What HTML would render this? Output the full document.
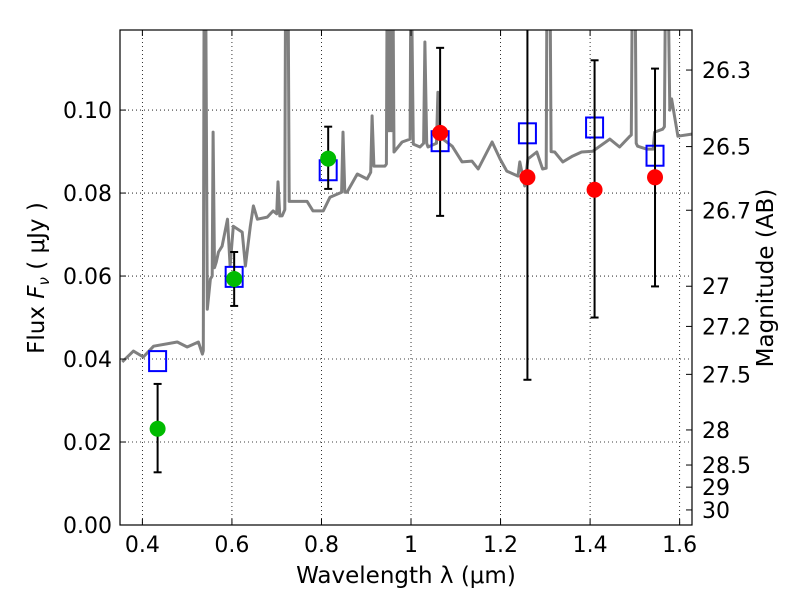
<!DOCTYPE html>
<html><head><meta charset="utf-8"><style>
body{margin:0;background:#fff}
svg{display:block;font-family:"DejaVu Sans","Liberation Sans",sans-serif}
</style></head><body>
<svg id="chart" width="800" height="600" viewBox="0 0 800 600">
<defs><clipPath id="clip"><rect x="120" y="30" width="572" height="495"/></clipPath></defs>
<rect x="0" y="0" width="800" height="600" fill="#fff"/>
<g id="grid"></g>
<g id="spec" clip-path="url(#clip)"></g>
<g id="marks" clip-path="url(#clip)"></g>
<rect x="120" y="30" width="572" height="495" fill="none" stroke="#000" stroke-width="1.2"/>
<g id="axes"></g>
<text x="406" y="583" font-size="23" text-anchor="middle">Wavelength  λ (μm)</text>
<text transform="translate(44,278) rotate(-90)" font-size="23" text-anchor="middle">Flux  <tspan font-style="italic">F</tspan><tspan font-size="15" font-style="italic" dy="5">ν</tspan><tspan dy="-5">  (  μJy )</tspan></text>
<text transform="translate(773,278) rotate(-90)" font-size="23" text-anchor="middle">Magnitude (AB)</text>
</svg>
<script>
const xTicks=[0.4,0.6,0.8,1.0,1.2,1.4,1.6];
const xTickLabels=["0.4","0.6","0.8","1","1.2","1.4","1.6"];
const yTicks=[0,0.02,0.04,0.06,0.08,0.10];
const yTickLabels=["0.00","0.02","0.04","0.06","0.08","0.10"];
const magTicks=[26.3,26.5,26.7,27,27.2,27.5,28,28.5,29,30];
const specLam=[0.355,0.380,0.402,0.425,0.478,0.500,0.525,0.534,0.536,0.538,0.541,0.545,0.552,0.556,0.558,0.561,0.565,0.570,0.578,0.590,0.596,0.603,0.623,0.630,0.641,0.648,0.657,0.679,0.692,0.700,0.703,0.707,0.712,0.718,0.720,0.725,0.728,0.768,0.781,0.804,0.819,0.845,0.848,0.852,0.857,0.880,0.902,0.910,0.913,0.917,0.942,0.945,0.947,0.951,0.953,0.956,0.959,0.962,0.980,0.998,1.000,1.005,1.020,1.028,1.031,1.035,1.038,1.057,1.060,1.063,1.071,1.092,1.114,1.136,1.150,1.181,1.199,1.214,1.239,1.243,1.254,1.261,1.281,1.294,1.302,1.304,1.310,1.313,1.321,1.339,1.361,1.381,1.406,1.444,1.466,1.489,1.492,1.495,1.500,1.503,1.506,1.526,1.541,1.544,1.562,1.566,1.569,1.573,1.578,1.582,1.596,1.627];
const specFlux=[.0393,.0419,.0405,.0431,.0441,.0429,.0441,.0412,.042,.14,.14,.052,.0593,.06,.0947,.062,.0634,.0658,.0672,.0737,.0624,.072,.0706,.0624,.072,.0769,.0737,.0742,.0757,.075,.0827,.0745,.0745,.076,.14,.14,.078,.078,.0757,.0757,.079,.0802,.0947,.0802,.0802,.0846,.0834,.085,.0986,.0865,.0865,.087,.14,.095,.14,.095,.14,.0899,.0923,.093,.14,.0918,.0911,.092,.1164,.092,.0911,.092,.1043,.093,.093,.0913,.0875,.0877,.0858,.0923,.0882,.0853,.0841,.0875,.0817,.0882,.0899,.0858,.086,.14,.14,.09,.0899,.0875,.0889,.0899,.0901,.093,.0911,.0937,.094,.14,.14,.092,.0913,.0906,.0906,.0947,.0954,.096,.14,.14,.1,.1027,.0937,.0942];
const modelLam=[0.434,0.605,0.815,1.065,1.26,1.41,1.545];
const modelFlux=[0.0395,0.0598,0.0855,0.0925,0.0944,0.0958,0.089];
const optLam=[0.434,0.605,0.815];
const optFlux=[0.0232,0.0593,0.0883];
const optLo=[0.0127,0.0528,0.081];
const optHi=[0.034,0.0658,0.096];
const irLam=[1.065,1.26,1.41,1.545];
const irFlux=[0.0945,0.0838,0.0808,0.0838];
const irLo=[0.0745,0.035,0.050,0.0575];
const irHi=[0.115,0.135,0.112,0.110];

const X0=120,X1=692,Y0=525,Y1=30,xmin=0.35,xmax=1.6276,ymin=0,ymax=0.1193;
const sx=v=>X0+(v-xmin)/(xmax-xmin)*(X1-X0);
const sy=v=>Y0-(v-ymin)/(ymax-ymin)*(Y0-Y1);
const NS="http://www.w3.org/2000/svg";
function mk(tag,attrs,parent){const e=document.createElementNS(NS,tag);for(const k in attrs)e.setAttribute(k,attrs[k]);parent.appendChild(e);return e;}
const grid=document.getElementById('grid'),axes=document.getElementById('axes'),spec=document.getElementById('spec'),marks=document.getElementById('marks');
xTicks.forEach((t,i)=>{const x=sx(t);
 let g=mk('line',{x1:x,x2:x,y1:Y1,y2:Y0,stroke:'#000','stroke-width':0.8,'stroke-dasharray':'1,3'},grid);
 
 mk('line',{x1:x,x2:x,y1:Y0,y2:Y0-6,stroke:'#000'},axes);
 mk('line',{x1:x,x2:x,y1:Y1,y2:Y1+6,stroke:'#000'},axes);
 let l=mk('text',{x:x,y:Y0+27,'font-size':22,'text-anchor':'middle'},axes);l.textContent=xTickLabels[i];
 });
yTicks.forEach((t,i)=>{const y=sy(t);
 if(t>0){let g=mk('line',{x1:X0,x2:X1,y1:y,y2:y,stroke:'#000','stroke-width':0.8,'stroke-dasharray':'1,3'},grid);
 }
 mk('line',{x1:X0,x2:X0+6,y1:y,y2:y,stroke:'#000'},axes);
 let l=mk('text',{x:X0-8,y:y+8,'font-size':22,'text-anchor':'end'},axes);l.textContent=yTickLabels[i];
 });
magTicks.forEach(m=>{const f=Math.pow(10,(23.9-m)/2.5);const y=sy(f);
 mk('line',{x1:X1,x2:X1-6,y1:y,y2:y,stroke:'#000'},axes);
 let l=mk('text',{x:X1+10,y:y+8,'font-size':22},axes);l.textContent=String(m);
 });
let pts=specLam.map((l,i)=>sx(l).toFixed(1)+','+sy(specFlux[i]).toFixed(1)).join(' ');
let pl=mk('polyline',{points:pts,fill:'none',stroke:'#808080','stroke-width':3,'stroke-linejoin':'round'},spec);

function errbar(lam,lo,hi){const x=sx(lam);
 mk('line',{x1:x,x2:x,y1:sy(lo),y2:sy(hi),stroke:'#000','stroke-width':2},marks);
 mk('line',{x1:x-4,x2:x+4,y1:sy(lo),y2:sy(lo),stroke:'#000','stroke-width':2},marks);
 mk('line',{x1:x-4,x2:x+4,y1:sy(hi),y2:sy(hi),stroke:'#000','stroke-width':2},marks);}
modelLam.forEach((l,i)=>{let r=mk('rect',{x:sx(l)-8.5,y:sy(modelFlux[i])-10,width:17,height:20,fill:'none',stroke:'#0000ff','stroke-width':2},marks);
 });
optLam.forEach((l,i)=>{errbar(l,optLo[i],optHi[i]);
 let c=mk('circle',{cx:sx(l),cy:sy(optFlux[i]),r:8,fill:'#00bb00'},marks);
 });
irLam.forEach((l,i)=>{errbar(l,irLo[i],irHi[i]);
 let c=mk('circle',{cx:sx(l),cy:sy(irFlux[i]),r:8,fill:'#ff0000'},marks);
 });
</script>
</body></html>
